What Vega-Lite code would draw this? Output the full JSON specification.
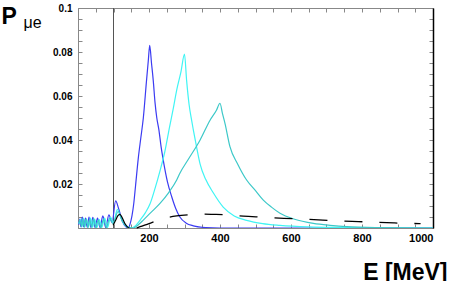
{
  "$schema": "https://vega.github.io/schema/vega-lite/v6.json",
  "width": 355,
  "height": 220,
  "autosize": "none",
  "padding": {"left": 78, "top": 8, "right": 16, "bottom": 53},
  "background": "white",
  "config": {
    "view": {"stroke": null},
    "axis": {"labelFont": "Liberation Sans", "titleFont": "Liberation Sans", "grid": false, "domainColor": "#888", "tickColor": "#888", "labelColor": "black"}
  },
  "data": {"values": [
    {"s":"b","E":2,"P":0.0015},{"s":"b","E":5,"P":0.004},{"s":"b","E":8,"P":0.0005},{"s":"b","E":12,"P":0.005},{"s":"b","E":16,"P":0.0005},{"s":"b","E":21,"P":0.0045},{"s":"b","E":26,"P":0.0003},{"s":"b","E":31,"P":0.005},{"s":"b","E":36,"P":0.0003},{"s":"b","E":42,"P":0.0048},{"s":"b","E":48,"P":0.0002},{"s":"b","E":55,"P":0.0045},{"s":"b","E":62,"P":0.0002},{"s":"b","E":70,"P":0.0055},{"s":"b","E":78,"P":0.0002},{"s":"b","E":87,"P":0.006},{"s":"b","E":96,"P":0.0025},{"s":"b","E":106,"P":0.0123},{"s":"b","E":115,"P":0.0085},{"s":"b","E":125,"P":0.003},{"s":"b","E":135,"P":0.0005},{"s":"b","E":142,"P":0},{"s":"b","E":147,"P":0.002},{"s":"b","E":152,"P":0.0055},{"s":"b","E":157,"P":0.011},{"s":"b","E":162,"P":0.019},{"s":"b","E":170,"P":0.032},{"s":"b","E":177,"P":0.041},{"s":"b","E":184,"P":0.05},{"s":"b","E":193,"P":0.067},{"s":"b","E":198,"P":0.076},{"s":"b","E":202,"P":0.083},{"s":"b","E":207,"P":0.075},{"s":"b","E":212,"P":0.067},{"s":"b","E":217,"P":0.057},{"s":"b","E":222,"P":0.05},{"s":"b","E":228,"P":0.0445},{"s":"b","E":234,"P":0.037},{"s":"b","E":240,"P":0.031},{"s":"b","E":252,"P":0.021},{"s":"b","E":264,"P":0.0142},{"s":"b","E":275,"P":0.009},{"s":"b","E":287,"P":0.005},{"s":"b","E":305,"P":0.0022},{"s":"b","E":325,"P":0.001},{"s":"b","E":360,"P":0.0002},{"s":"b","E":400,"P":0},{"s":"b","E":1000,"P":0},
    {"s":"c","E":3,"P":0.002},{"s":"c","E":7,"P":0.004},{"s":"c","E":11,"P":0.0005},{"s":"c","E":15,"P":0.0045},{"s":"c","E":19,"P":0.0004},{"s":"c","E":24,"P":0.004},{"s":"c","E":29,"P":0.0003},{"s":"c","E":35,"P":0.0045},{"s":"c","E":41,"P":0.0003},{"s":"c","E":47,"P":0.004},{"s":"c","E":53,"P":0.0002},{"s":"c","E":60,"P":0.0038},{"s":"c","E":67,"P":0.0002},{"s":"c","E":75,"P":0.0045},{"s":"c","E":83,"P":0.0002},{"s":"c","E":92,"P":0.0048},{"s":"c","E":100,"P":0.0025},{"s":"c","E":111,"P":0.0085},{"s":"c","E":120,"P":0.005},{"s":"c","E":130,"P":0.0018},{"s":"c","E":140,"P":0.0004},{"s":"c","E":151,"P":0},{"s":"c","E":163,"P":0.0012},{"s":"c","E":175,"P":0.0036},{"s":"c","E":190,"P":0.007},{"s":"c","E":203,"P":0.011},{"s":"c","E":217,"P":0.018},{"s":"c","E":231,"P":0.026},{"s":"c","E":245,"P":0.035},{"s":"c","E":258,"P":0.046},{"s":"c","E":268,"P":0.054},{"s":"c","E":278,"P":0.0627},{"s":"c","E":290,"P":0.071},{"s":"c","E":300,"P":0.079},{"s":"c","E":306,"P":0.067},{"s":"c","E":313,"P":0.056},{"s":"c","E":320,"P":0.049},{"s":"c","E":325,"P":0.0445},{"s":"c","E":335,"P":0.036},{"s":"c","E":344,"P":0.029},{"s":"c","E":360,"P":0.022},{"s":"c","E":381,"P":0.016},{"s":"c","E":409,"P":0.0095},{"s":"c","E":440,"P":0.0055},{"s":"c","E":475,"P":0.0035},{"s":"c","E":520,"P":0.002},{"s":"c","E":569,"P":0.0012},{"s":"c","E":650,"P":0.0005},{"s":"c","E":750,"P":0.0002},{"s":"c","E":850,"P":0},{"s":"c","E":1000,"P":0},
    {"s":"t","E":2,"P":0.002},{"s":"t","E":6,"P":0.0035},{"s":"t","E":10,"P":0.0005},{"s":"t","E":14,"P":0.004},{"s":"t","E":18,"P":0.0004},{"s":"t","E":23,"P":0.0042},{"s":"t","E":28,"P":0.0003},{"s":"t","E":33,"P":0.004},{"s":"t","E":38,"P":0.0003},{"s":"t","E":44,"P":0.0043},{"s":"t","E":50,"P":0.0002},{"s":"t","E":57,"P":0.0036},{"s":"t","E":64,"P":0.0002},{"s":"t","E":72,"P":0.004},{"s":"t","E":80,"P":0.0002},{"s":"t","E":89,"P":0.0045},{"s":"t","E":98,"P":0.002},{"s":"t","E":113,"P":0.0075},{"s":"t","E":125,"P":0.003},{"s":"t","E":140,"P":0.0006},{"s":"t","E":156,"P":0},{"s":"t","E":170,"P":0.0015},{"s":"t","E":184,"P":0.0036},{"s":"t","E":205,"P":0.007},{"s":"t","E":231,"P":0.0112},{"s":"t","E":255,"P":0.016},{"s":"t","E":278,"P":0.0218},{"s":"t","E":287,"P":0.0249},{"s":"t","E":310,"P":0.031},{"s":"t","E":344,"P":0.04},{"s":"t","E":372,"P":0.049},{"s":"t","E":390,"P":0.0535},{"s":"t","E":400,"P":0.0567},{"s":"t","E":407,"P":0.052},{"s":"t","E":414,"P":0.0476},{"s":"t","E":428,"P":0.037},{"s":"t","E":450,"P":0.029},{"s":"t","E":475,"P":0.0218},{"s":"t","E":500,"P":0.017},{"s":"t","E":522,"P":0.0127},{"s":"t","E":545,"P":0.0095},{"s":"t","E":569,"P":0.0067},{"s":"t","E":610,"P":0.004},{"s":"t","E":663,"P":0.0021},{"s":"t","E":710,"P":0.0012},{"s":"t","E":757,"P":0.0006},{"s":"t","E":850,"P":0.0002},{"s":"t","E":1000,"P":0},
    {"s":"k","E":99,"P":0.0012},{"s":"k","E":106,"P":0.0035},{"s":"k","E":112,"P":0.0055},{"s":"k","E":118,"P":0.0062},{"s":"k","E":125,"P":0.0045},{"s":"k","E":133,"P":0.0018},{"s":"k","E":140,"P":0.0004},{"s":"k","E":145,"P":0},
    {"s":"d","E":165,"P":0},{"s":"d","E":175,"P":0.0006},{"s":"d","E":200,"P":0.002},{"s":"d","E":226,"P":0.0036},{"s":"d","E":250,"P":0.0047},{"s":"d","E":278,"P":0.0055},{"s":"d","E":310,"P":0.006},{"s":"d","E":344,"P":0.0063},{"s":"d","E":380,"P":0.0062},{"s":"d","E":419,"P":0.006},{"s":"d","E":437,"P":0.0057},{"s":"d","E":480,"P":0.0053},{"s":"d","E":531,"P":0.0048},{"s":"d","E":580,"P":0.0044},{"s":"d","E":639,"P":0.004},{"s":"d","E":690,"P":0.0036},{"s":"d","E":738,"P":0.0032},{"s":"d","E":790,"P":0.0029},{"s":"d","E":837,"P":0.0026},{"s":"d","E":890,"P":0.0023},{"s":"d","E":935,"P":0.0021},{"s":"d","E":965,"P":0.002}
  ]},
  "layer": [
    {
      "mark": {"type": "rule", "color": "#555", "strokeWidth": 1},
      "encoding": {"x": {"datum": 100, "type": "quantitative", "scale": {"domain": [0, 1000], "nice": false}, "axis": null}}
    },
    {
      "transform": [{"filter": "datum.s != 'd'"}],
      "mark": {"type": "line", "strokeWidth": 1.2, "interpolate": "monotone", "clip": true},
      "encoding": {
        "x": {"field": "E", "type": "quantitative", "scale": {"domain": [0, 1000], "nice": false},
          "axis": {"orient": "bottom", "values": [0,50,100,150,200,250,300,350,400,450,500,550,600,650,700,750,800,850,900,950,1000],
            "labelExpr": "(datum.value % 200 == 0 && datum.value > 0) ? format(datum.value, 'd') : ''",
            "tickSize": -4, "labelPadding": 8, "labelFontSize": 11, "labelFontWeight": "bold",
            "title": "E [MeV]", "titleFontSize": 23, "titleFontWeight": "bold", "titleAlign": "right", "titleBaseline": "alphabetic", "titleX": 369, "titleY": 51}},
        "y": {"field": "P", "type": "quantitative", "scale": {"domain": [0, 0.1], "nice": false},
          "axis": {"orient": "left", "values": [0,0.005,0.01,0.015,0.02,0.025,0.03,0.035,0.04,0.045,0.05,0.055,0.06,0.065,0.07,0.075,0.08,0.085,0.09,0.095,0.1],
            "labelExpr": "(round(datum.value*1000) % 20 == 0 && datum.value > 0) ? format(datum.value, '.2~f') : ''",
            "tickSize": -4, "labelPadding": 10, "labelFontSize": 10, "labelFontWeight": "bold",
            "title": "P", "titleAngle": 0, "titleFontSize": 23, "titleFontWeight": "bold", "titleAlign": "left", "titleBaseline": "alphabetic", "titleX": -77, "titleY": 15}},
        "color": {"field": "s", "type": "nominal", "scale": {"domain": ["t","c","b","k"], "range": ["#3cc8c8","#40f4f4","#3b3bf2","#000000"]}, "legend": null},
        "order": {"field": "E", "type": "quantitative"}
      }
    },
    {
      "transform": [{"filter": "datum.s == 'd'"}],
      "mark": {"type": "line", "strokeWidth": 1.3, "color": "black", "strokeDash": [18, 17], "interpolate": "monotone"},
      "encoding": {
        "x": {"field": "E", "type": "quantitative", "axis": {"orient": "top", "values": [0,50,100,150,200,250,300,350,400,450,500,550,600,650,700,750,800,850,900,950,1000], "labels": false, "tickSize": -4, "title": null}},
        "y": {"field": "P", "type": "quantitative", "axis": {"orient": "right", "values": [0,0.005,0.01,0.015,0.02,0.025,0.03,0.035,0.04,0.045,0.05,0.055,0.06,0.065,0.07,0.075,0.08,0.085,0.09,0.095,0.1], "labels": false, "tickSize": -4, "domainColor": "black", "domainWidth": 1.5,
          "title": "μe", "titleAngle": 0, "titleFontSize": 16, "titleFontWeight": "normal", "titleAlign": "left", "titleBaseline": "alphabetic", "titleX": -410, "titleY": 19}}
      }
    }
  ],
  "resolve": {"axis": {"x": "independent", "y": "independent"}}
}
